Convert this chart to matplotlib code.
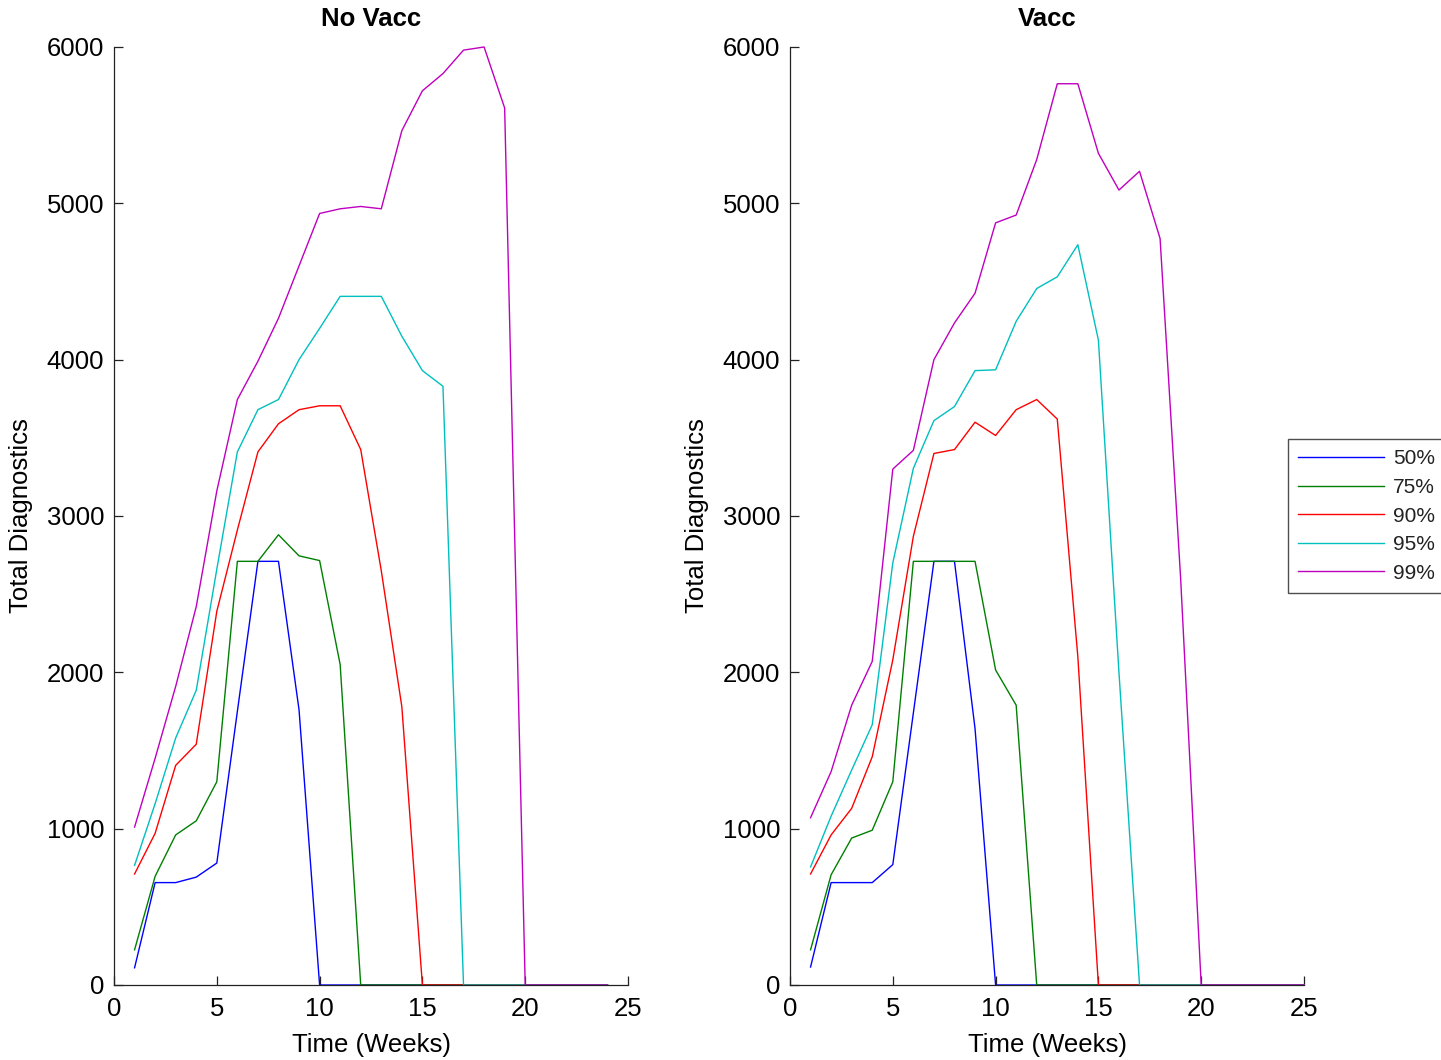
import matplotlib
matplotlib.use("Agg")
import matplotlib.pyplot as plt

plt.rcParams['font.family'] = ['Liberation Sans', 'DejaVu Sans']

weeks_novacc = list(range(1, 25))
weeks_vacc = list(range(1, 26))

labels = ["50%", "75%", "90%", "95%", "99%"]
colors = ["#0000FF", "#008000", "#FF0000", "#00BFBF", "#BF00BF"]

novacc_50 = [110, 655, 655, 690, 780, 1750, 2710, 2710, 1760, 0, 0, 0,
             0, 0, 0, 0, 0, 0, 0, 0, 0, 0, 0, 0]
novacc_75 = [225, 695, 960, 1050, 1300, 2710, 2710, 2880, 2745, 2715, 2050, 0,
             0, 0, 0, 0, 0, 0, 0, 0, 0, 0, 0, 0]
novacc_90 = [710, 970, 1405, 1540, 2390, 2910, 3410, 3590, 3680, 3705, 3705, 3425,
             2650, 1780, 0, 0, 0, 0, 0, 0, 0, 0, 0, 0]
novacc_95 = [765, 1160, 1580, 1885, 2660, 3410, 3680, 3745, 4000, 4200, 4405, 4405,
             4405, 4150, 3930, 3830, 0, 0, 0, 0, 0, 0, 0, 0]
novacc_99 = [1010, 1450, 1910, 2420, 3160, 3745, 3990, 4265, 4600, 4935, 4965, 4980,
             4965, 5465, 5720, 5830, 5980, 6000, 5610, 0, 0, 0, 0, 0]

vacc_50 = [115, 655, 655, 655, 770, 1740, 2710, 2710, 1640, 0, 0, 0, 0,
           0, 0, 0, 0, 0, 0, 0, 0, 0, 0, 0, 0]
vacc_75 = [225, 705, 940, 990, 1300, 2710, 2710, 2710, 2710, 2015, 1790, 0, 0,
           0, 0, 0, 0, 0, 0, 0, 0, 0, 0, 0, 0]
vacc_90 = [710, 960, 1130, 1460, 2080, 2870, 3400, 3425, 3600, 3515, 3680, 3745, 3620,
           2100, 0, 0, 0, 0, 0, 0, 0, 0, 0, 0, 0]
vacc_95 = [755, 1080, 1375, 1665, 2700, 3305, 3610, 3700, 3930, 3935, 4245, 4455, 4530,
           4735, 4125, 2000, 0, 0, 0, 0, 0, 0, 0, 0, 0]
vacc_99 = [1070, 1365, 1790, 2070, 3300, 3420, 4000, 4235, 4425, 4875, 4925, 5280, 5765,
           5765, 5320, 5085, 5205, 4775, 2600, 0, 0, 0, 0, 0, 0]

titles = ["No Vacc", "Vacc"]
xlabel = "Time (Weeks)"
ylabel = "Total Diagnostics"
xticks = [0, 5, 10, 15, 20, 25]
yticks = [0, 1000, 2000, 3000, 4000, 5000, 6000]

W, H = 1441, 1060
fig = plt.figure(figsize=(W / 100, H / 100), dpi=100)
fig.patch.set_facecolor("white")

axes_px = [(114, 628), (790, 1304)]
y_top, y_bot = 47, 985

panels = [
    (weeks_novacc, [novacc_50, novacc_75, novacc_90, novacc_95, novacc_99]),
    (weeks_vacc, [vacc_50, vacc_75, vacc_90, vacc_95, vacc_99]),
]

FS = 18.5
handles = None
for i, ((x0, x1), (wk, series)) in enumerate(zip(axes_px, panels)):
    ax = fig.add_axes([x0 / W, 1 - y_bot / H, (x1 - x0) / W, (y_bot - y_top) / H])
    hs = []
    for s, c, lab in zip(series, colors, labels):
        h, = ax.plot(wk, s, color=c, lw=1.0, label=lab, clip_on=False)
        hs.append(h)
    handles = hs
    ax.set_xlim(0, 25)
    ax.set_ylim(0, 6000)
    ax.set_xticks(xticks)
    ax.set_yticks(yticks)
    ax.spines['top'].set_visible(False)
    ax.spines['right'].set_visible(False)
    for sp in ('left', 'bottom'):
        ax.spines[sp].set_linewidth(0.9)
        ax.spines[sp].set_color('#222222')
    ax.tick_params(direction='in', length=6.5, width=0.9, color='#222222',
                   labelsize=FS)
    ax.tick_params(axis='x', pad=9)
    ax.tick_params(axis='y', pad=7)
    ax.set_xlabel(xlabel, fontsize=FS, labelpad=8)
    ax.set_ylabel(ylabel, fontsize=FS, labelpad=10)
    ax.set_title(titles[i], fontsize=FS, fontweight='bold', pad=15)

leg = fig.legend(handles=handles, labels=labels, loc='upper left',
                 bbox_to_anchor=(1287.7 / W, 1 - 439 / H), bbox_transform=fig.transFigure,
                 borderaxespad=0, fontsize=15, frameon=True, fancybox=False,
                 handlelength=4.1, handletextpad=0.45, labelspacing=0.46, borderpad=0.5)
leg.get_frame().set_edgecolor('#222222')
leg.get_frame().set_linewidth(1.0)
for t in leg.get_texts():
    t.set_color('#222222')

fig.savefig("out.png", dpi=100)
